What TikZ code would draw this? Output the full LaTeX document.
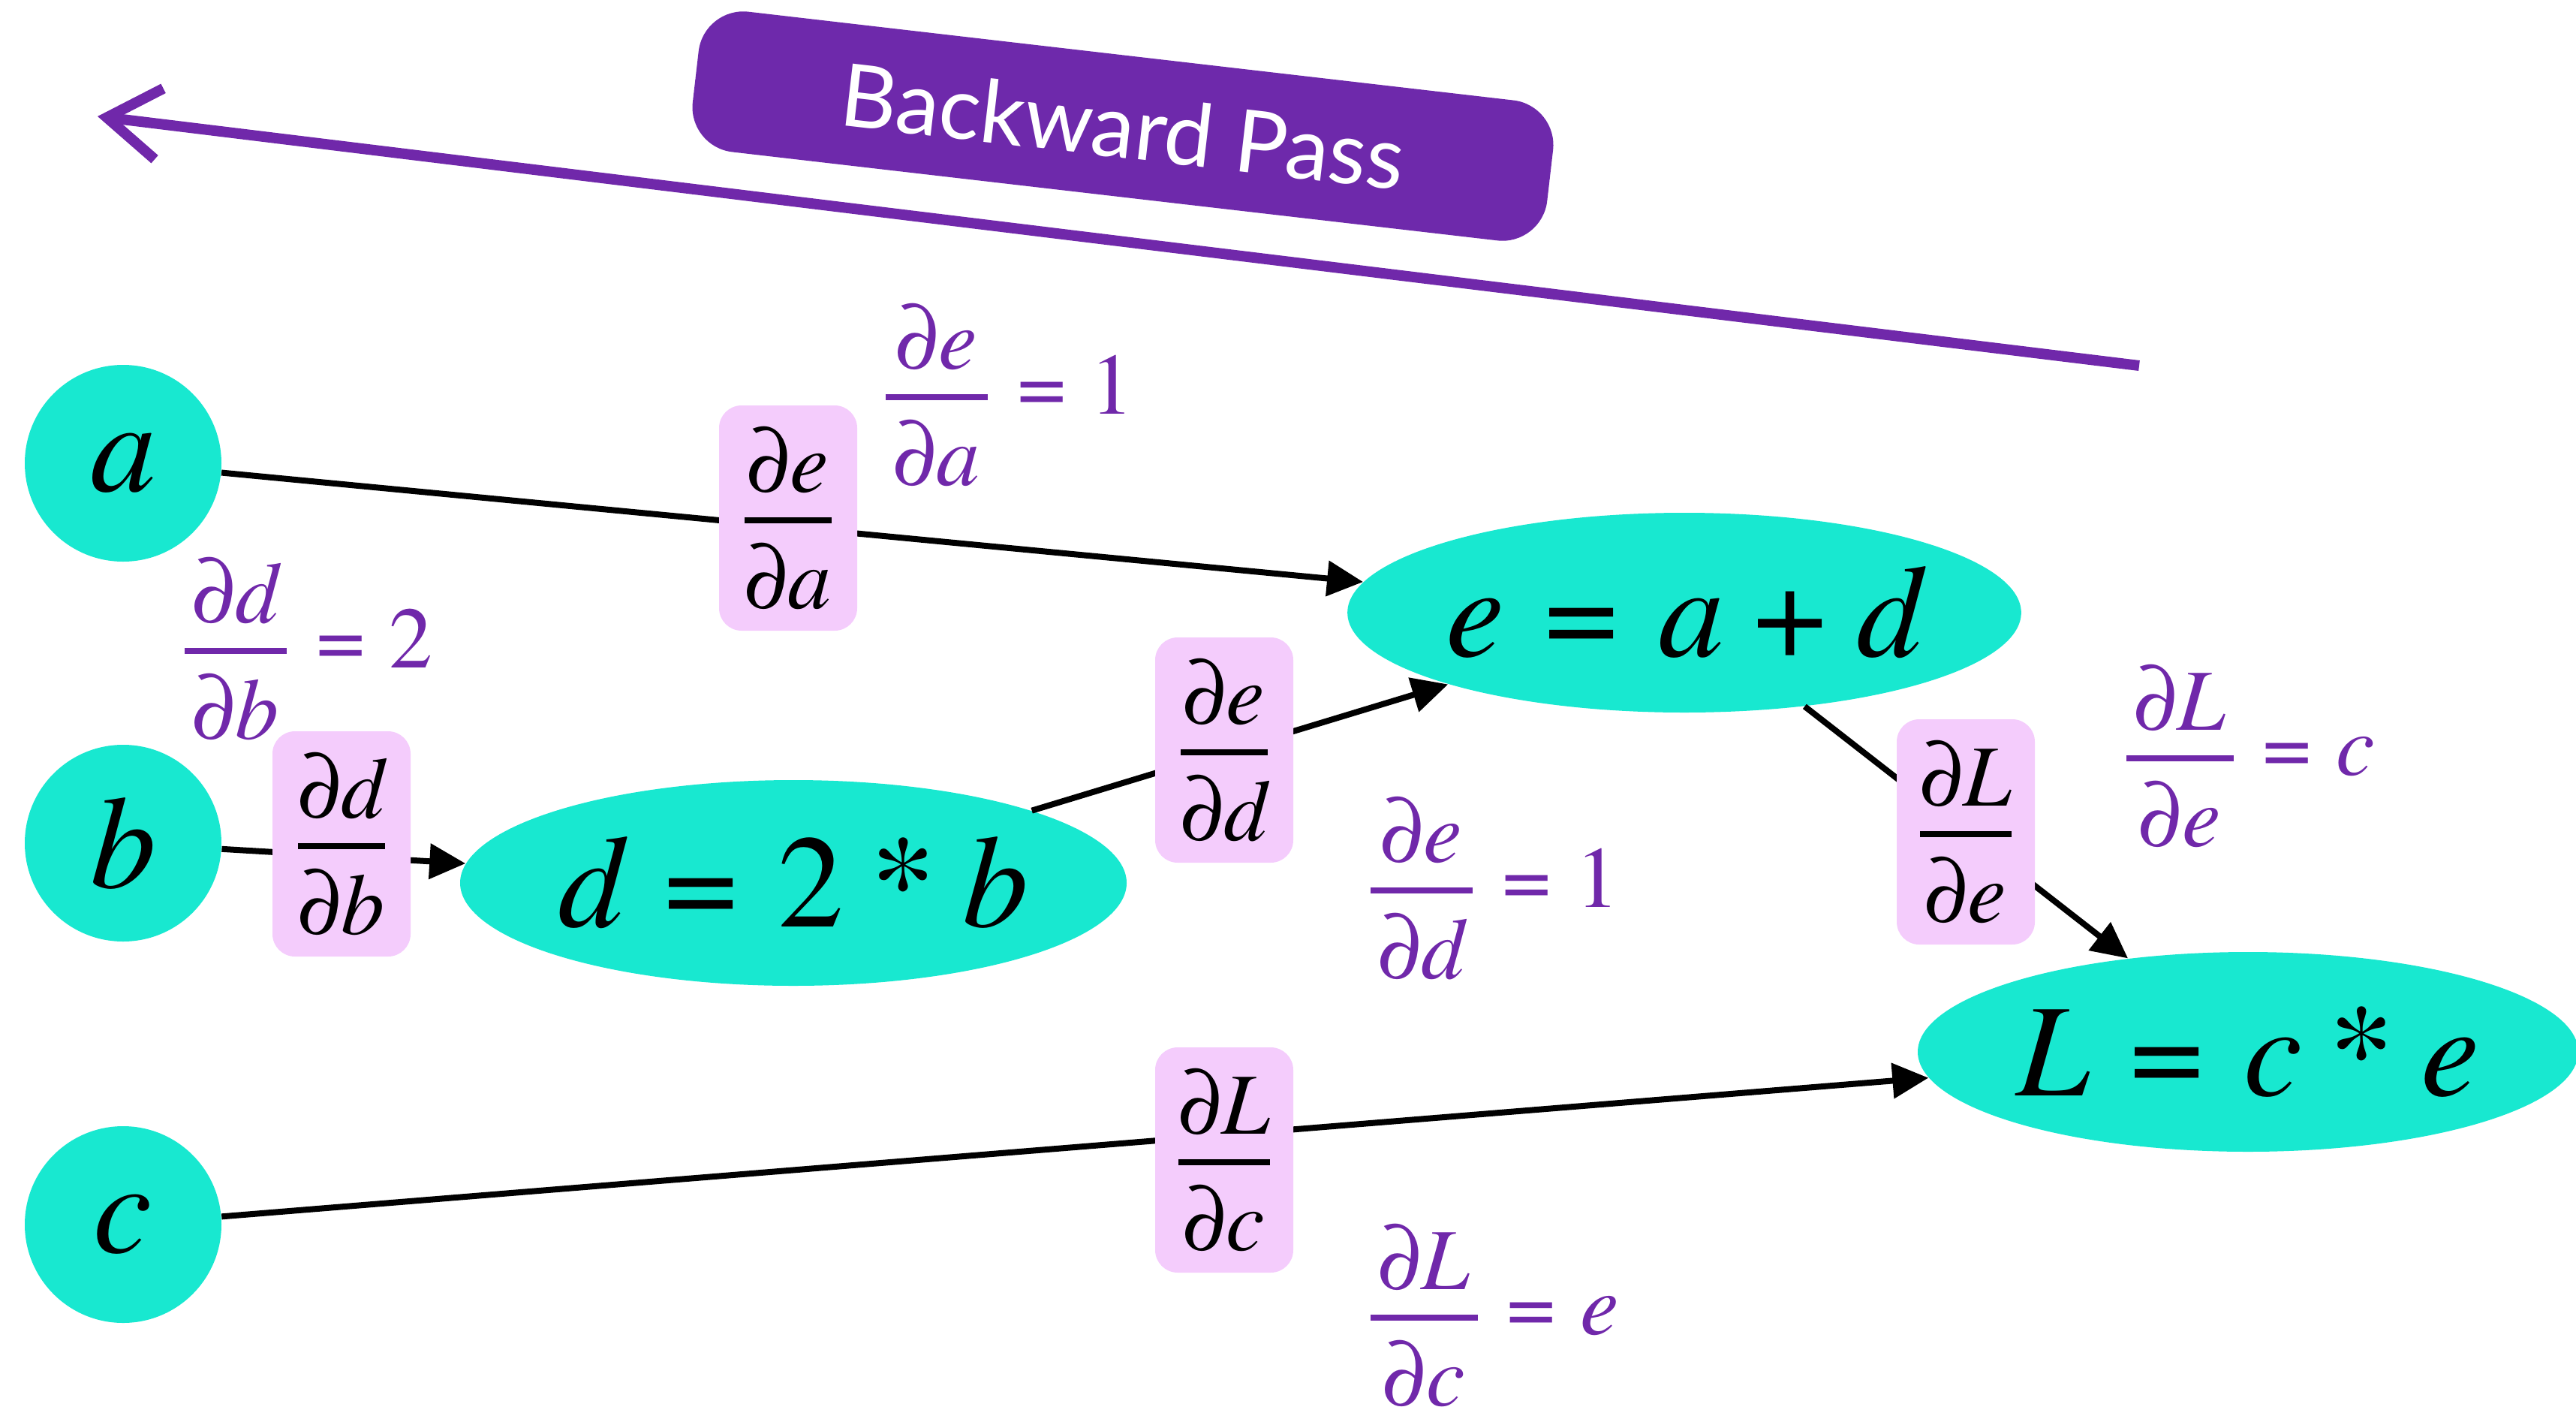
\documentclass[tikz,border=0pt]{standalone}
\usepackage{fontspec}
\usepackage{amsmath}
\newfontfamily\termes{texgyretermes}[Extension=.otf, UprightFont=*-regular, ItalicFont=*-italic, BoldFont=*-bold, BoldItalicFont=*-bolditalic]
\newfontfamily\bannerfont{Lato}
\usetikzlibrary{shapes.geometric,arrows.meta}
\definecolor{nodeteal}{RGB}{24,232,208}
\definecolor{boxpink}{RGB}{244,204,252}
\definecolor{labpurple}{RGB}{112,40,170}
\definecolor{bannerpurple}{RGB}{110,41,171}
\newcommand{\vi}[1]{\hbox{\termes\itshape #1}}
\newcommand{\up}[1]{\hbox{\termes\upshape #1}}
\newcommand{\req}{\hspace{0.3em}\up{=}\hspace{0.3em}}
\newcommand{\lreq}{\hspace{0.3em}\up{=}\hspace{0.28em}}
\newcommand{\bplus}{\hspace{0.22em}\up{+}\hspace{0.22em}}
\newcommand{\bstar}{\hspace{0.2em}\up{*}\hspace{0.2em}}
\newcommand{\pd}[1]{\hbox{\termes\upshape ∂\itshape #1}}
\newcommand{\pdpad}[1]{\hbox{\kern0.09em\termes\upshape ∂\itshape #1\kern0.09em}}
\newcommand{\pfrac}[2]{\genfrac{}{}{2.4pt}{0}{\pd{#1}}{\pd{#2}}}
\newcommand{\lpfrac}[2]{\genfrac{}{}{2.4pt}{0}{\pdpad{#1}}{\pdpad{#2}}}
\tikzset{
  varnode/.style={circle, fill=nodeteal, minimum size=2.62cm, inner sep=0pt, font=\fontsize{50}{60}\selectfont},
  opnode/.style={ellipse, fill=nodeteal, inner sep=0pt, font=\fontsize{50}{60}\selectfont},
  gradbox/.style={fill=boxpink, rounded corners=0.3cm, minimum width=1.84cm, minimum height=3.0cm, inner sep=0pt, font=\fontsize{33}{40}\selectfont},
  gradlabel/.style={anchor=west, inner sep=0pt, text=labpurple, font=\fontsize{33}{40}\selectfont},
  flowarrow/.style={draw=black, line width=0.08cm, -{Triangle[length=0.48cm,width=0.46cm]}},
  bannerbox/.style={fill=bannerpurple, rounded corners=0.6cm, minimum width=11.46cm, minimum height=1.88cm, text=white, font=\bannerfont\fontsize{33}{40}\selectfont},
  passarrow/.style={draw=labpurple, line width=0.14cm, line cap=butt, -{Straight Barb[length=0.7cm,width=0.95cm]}}
}
\begin{document}
\begin{tikzpicture}
\useasboundingbox (0,0) rectangle (34.32,-18.82);
% banner and backward arrow
\node[bannerbox, rotate=-6.6] (banner) at (14.96,-1.68) {Backward Pass};
\coordinate (bptail) at (28.50,-4.87);
\coordinate (bptip) at (1.30,-1.55);
\draw[passarrow] (bptail) -- (bptip);
% nodes
\node[varnode] (a) at (1.64,-6.17) {$\vi{a}$};
\node[varnode] (b) at (1.64,-11.23) {$\vi{b}$};
\node[varnode] (c) at (1.64,-16.31) {$\vi{c}$};
\node[opnode, minimum width=8.88cm, minimum height=2.74cm] (d) at (10.57,-11.76) {$\vi{d} \req \up{2} \bstar \vi{b}$};
\node[opnode, minimum width=8.88cm, minimum height=2.66cm] (e) at (22.44,-8.16) {$\vi{e} \req \vi{a} \bplus \vi{d}$};
\node[opnode, minimum width=8.80cm, minimum height=2.66cm] (L) at (29.95,-14.01) {$\vi{L} \req \vi{c} \bstar \vi{e}$};
% connectors
\draw[flowarrow] (a) -- (e);
\draw[flowarrow] (b) -- (d);
\draw[flowarrow] (d) -- (e);
\draw[flowarrow] (e) -- (L);
\draw[flowarrow] (c) -- (L);
% local gradient boxes
\node[gradbox] (gea) at (10.50,-6.90) {$\pfrac{e}{a}$};
\node[gradbox] (gdb) at (4.55,-11.24) {$\pfrac{d}{b}$};
\node[gradbox] (ged) at (16.31,-9.99) {$\pfrac{e}{d}$};
\node[gradbox] (gle) at (26.19,-11.08) {$\pfrac{L}{e}$};
\node[gradbox] (glc) at (16.31,-15.45) {$\pfrac{L}{c}$};
% gradient values
\node[gradlabel] (vea) at (11.75,-5.26) {$\lpfrac{e}{a} \lreq \up{1}$};
\node[gradlabel] (vdb) at (2.41,-8.64) {$\lpfrac{d}{b} \lreq \up{2}$};
\node[gradlabel] (ved) at (18.21,-11.83) {$\lpfrac{e}{d} \lreq \up{1}$};
\node[gradlabel] (vle) at (28.28,-10.07) {$\lpfrac{L}{e} \lreq \vi{c}$};
\node[gradlabel] (vlc) at (18.21,-17.52) {$\lpfrac{L}{c} \lreq \vi{e}$};
\end{tikzpicture}
\end{document}
